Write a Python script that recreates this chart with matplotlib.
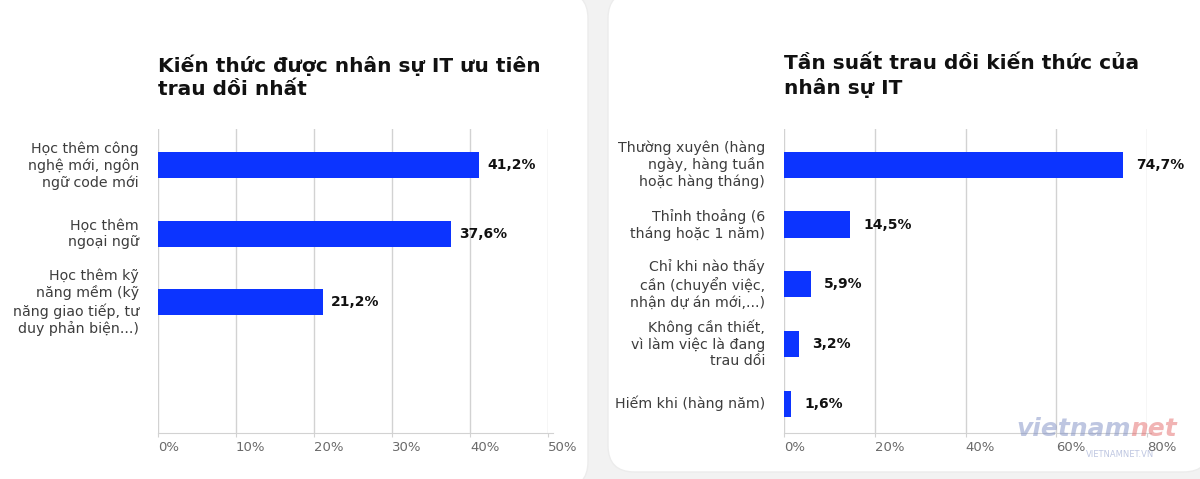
import matplotlib
matplotlib.use("Agg")
import matplotlib.pyplot as plt
from matplotlib.patches import FancyBboxPatch
from matplotlib.ticker import FuncFormatter
from matplotlib.text import Annotation

# ---- data ----
left_title = "Kiến thức được nhân sự IT ưu tiên\ntrau dồi nhất"
left_categories = [
    "Học thêm công\nnghệ mới, ngôn\nngữ code mới",
    "Học thêm\nngoại ngữ",
    "Học thêm kỹ\nnăng mềm (kỹ\nnăng giao tiếp, tư\nduy phản biện...)",
]
left_values = [41.2, 37.6, 21.2]
left_ticks = [0, 10, 20, 30, 40, 50]

right_title = "Tần suất trau dồi kiến thức của\nnhân sự IT"
right_categories = [
    "Thường xuyên (hàng\nngày, hàng tuần\nhoặc hàng tháng)",
    "Thỉnh thoảng (6\ntháng hoặc 1 năm)",
    "Chỉ khi nào thấy\ncần (chuyển việc,\nnhận dự án mới,...)",
    "Không cần thiết,\nvì làm việc là đang\ntrau dồi",
    "Hiếm khi (hàng năm)",
]
right_values = [74.7, 14.5, 5.9, 3.2, 1.6]
right_ticks = [0, 20, 40, 60, 80]

BLUE = "#0c34ff"
GRID = "#d2d2d2"
W, H = 1200, 479

plt.rcParams["font.family"] = ["DejaVu Sans"]
fig = plt.figure(figsize=(W / 100, H / 100), dpi=100)
fig.patch.set_facecolor("#f2f2f2")

def px(x, y):
    return x / W, 1 - y / H

# cards
for (x0, y0, x1, y1) in [(-10, -8, 588, 488), (608, -8, 1210, 472)]:
    fx0, fy1 = px(x0, y0)
    fx1, fy0 = px(x1, y1)
    card = FancyBboxPatch((fx0, fy0), fx1 - fx0, fy1 - fy0,
                          boxstyle="round,pad=0,rounding_size=0.022",
                          transform=fig.transFigure, facecolor="white",
                          edgecolor="#ececec", linewidth=1.0,
                          mutation_aspect=W / H, zorder=-5)
    fig.patches.append(card)


def panel(x_left, x_right, title, cats, vals, ticks, ylim, lab_x, val_off):
    l, _ = px(x_left, 0)
    r, _ = px(x_right, 0)
    _, b = px(0, 433)
    _, t = px(0, 129)
    ax = fig.add_axes([l, b, r - l, t - b])
    ax.set_zorder(2)
    ax.set_facecolor("none")
    n = len(vals)
    pos = list(range(n))
    ax.barh(pos, vals, height=0.38 if n == 3 else 0.44, color=BLUE, zorder=3)
    ax.set_xlim(ticks[0], ticks[-1])
    ax.set_ylim(*ylim)
    ax.set_xticks(ticks)
    ax.xaxis.set_major_formatter(FuncFormatter(lambda v, p: f"{v:.0f}%"))
    for lab in ax.get_xticklabels():
        lab.set_horizontalalignment("left")
    ax.tick_params(axis="x", length=3, color=GRID, labelcolor="#6a6a6a",
                   labelsize=9.5, pad=3)
    ax.set_yticks([])
    ax.grid(axis="x", color=GRID, linewidth=1.0, zorder=0)
    for s in ["top", "right", "left"]:
        ax.spines[s].set_visible(False)
    ax.spines["bottom"].set_color(GRID)
    ax.spines["bottom"].set_bounds(ticks[0], ticks[-1] * 1.012)
    for p_, v, c in zip(pos, vals, cats):
        ax.annotate(f"{v:.1f}%".replace(".", ","), (v, p_),
                    xytext=(val_off, 0), textcoords="offset points",
                    ha="left", va="center", fontsize=10, fontweight="bold",
                    color="#111111", zorder=4)
        ax.text(lab_x, p_, c, transform=ax.get_yaxis_transform(),
                ha="right", va="center", fontsize=10.2, color="#3d3d3d",
                linespacing=1.22)
    # title: top of first line near y=55 px
    _, ty = px(0, 54)
    fig.text(l, ty, title, ha="left", va="top",
             fontsize=14.5, fontweight="bold", color="#111111",
             linespacing=1.32)
    return ax

# left panel: 0 at 158 px, 50% at 548 px
panel(158, 548, left_title, left_categories, left_values, left_ticks,
      (3.91, -0.53), -19 / 390, 5.5)
# right panel: 0 at 784 px, 80% at 1147 px
panel(784, 1147, right_title, right_categories, right_values, right_ticks,
      (4.49, -0.6), -19 / 363, 9.5)

# watermark
wm = fig.text(1016 / W, 1 - 436 / H, "vietnam", fontsize=18, color="#7f8fc4",
              alpha=0.5, ha="left", va="baseline", fontstyle="italic",
              fontweight="bold", zorder=10)
net = Annotation("net", xy=(1, 0), xycoords=wm, xytext=(0, 0),
                 textcoords="offset points", fontsize=18, color="#e46a6a",
                 alpha=0.5, ha="left", va="bottom", fontstyle="italic",
                 fontweight="bold", zorder=10)
fig.add_artist(net)
fig.text(1086 / W, 1 - 457 / H, "VIETNAMNET.VN", fontsize=6, color="#7f8fc4",
         alpha=0.5, ha="left", va="baseline", zorder=10)

fig.savefig("out.png", dpi=100, facecolor=fig.get_facecolor())
